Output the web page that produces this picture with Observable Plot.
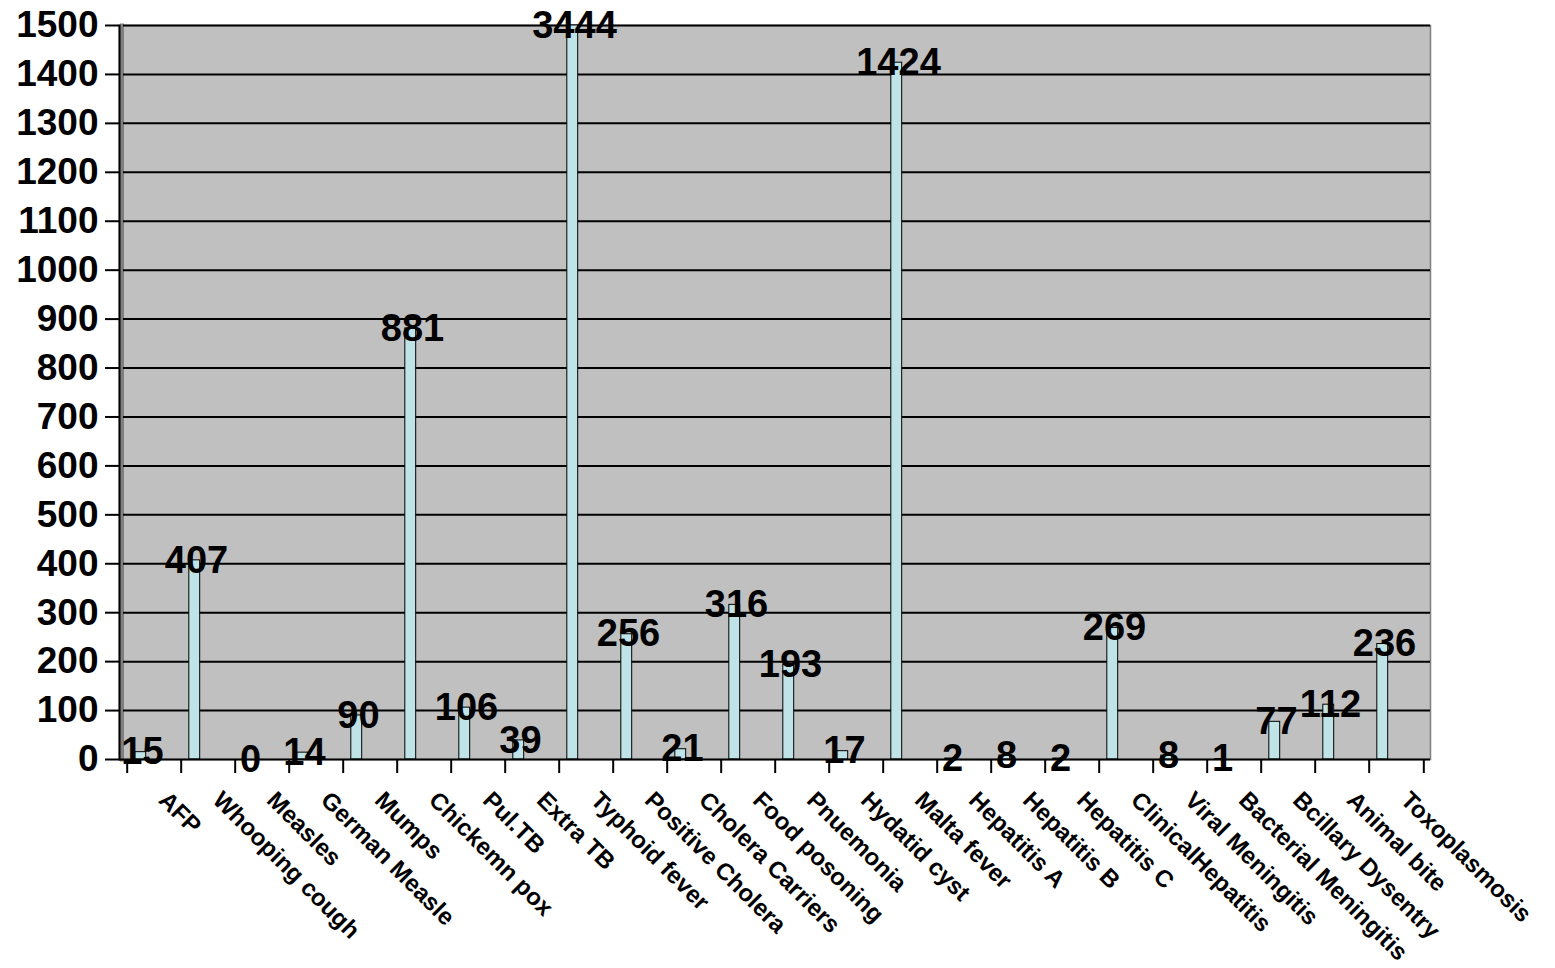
<!DOCTYPE html>
<html>
<head>
<meta charset="utf-8">
<script src="https://cdn.jsdelivr.net/npm/d3@7"></script>
<script src="https://cdn.jsdelivr.net/npm/@observablehq/plot@0.6"></script>
<style>
  html, body { margin: 0; padding: 0; background: #ffffff; }
  #chart svg { display: block; }
</style>
</head>
<body>
<div id="chart"></div>
<script>
const categories = ["AFP", "Whooping cough", "Measles", "German Measle", "Mumps", "Chickemn pox", "Pul.TB", "Extra TB", "Typhoid fever", "Positive Cholera", "Cholera Carriers", "Food posoning", "Pnuemonia", "Hydatid cyst", "Malta fever", "Hepatitis A", "Hepatitis B", "Hepatitis C", "ClinicalHepatitis", "Viral Meningitis", "Bacterial Meningitis", "Bcillary Dysentry", "Animal bite", "Toxoplasmosis"];
const values = [15, 407, 0, 14, 90, 881, 106, 39, 3444, 256, 21, 316, 193, 17, 1424, 2, 8, 2, 269, 8, 1, 77, 112, 236];
const yTicks = [0, 100, 200, 300, 400, 500, 600, 700, 800, 900, 1000, 1100, 1200, 1300, 1400, 1500];
const yMax = 1500;

const data = categories.map((c, i) => ({cat: c, value: values[i]}));

const W = 1555, H = 968;
const mL = 119, mR = 125, mT = 25, mB = 209;
const bw = (W - mL - mR) / categories.length;
const font = "'Liberation Sans', Arial, Helvetica, sans-serif";

const chart = Plot.plot({
  width: W,
  height: H,
  marginLeft: mL,
  marginRight: mR,
  marginTop: mT,
  marginBottom: mB,
  style: {fontFamily: font, background: "#ffffff", color: "#000000"},
  x: {type: "band", domain: categories, padding: 0, axis: null, label: null},
  y: {domain: [0, yMax], clamp: true, axis: null, label: null},
  marks: [
    Plot.frame({fill: "#c0c0c0", stroke: "#7f7f7f", strokeWidth: 1.5}),
    Plot.frame({anchor: "left", stroke: "#7f7f7f", strokeWidth: 4, dx: 2.5}),
    Plot.gridY(yTicks.slice(1), {stroke: "#000000", strokeOpacity: 1, strokeWidth: 2, insetLeft: 4}),
    // bar front faces
    Plot.barY(data, {x: "cat", y: "value", fill: "#bfe3e6", stroke: "#000000", strokeWidth: 1,
      insetLeft: bw / 2 - 19.5, insetRight: bw / 2 + 8}),
    // bar side faces (3D depth)
    Plot.barY(data, {x: "cat", y: "value", fill: "#5e7f82", stroke: "#000000", strokeWidth: 1,
      insetLeft: bw / 2 + 8, insetRight: bw / 2 + 3.5}),
    // axes lines
    Plot.ruleY([0], {stroke: "#000000", strokeWidth: 2}),
    Plot.frame({anchor: "left", stroke: "#000000", strokeWidth: 2}),
    Plot.axisY({ticks: yTicks, tickSize: 14, tickPadding: 7, tickFormat: d => String(d), label: null,
      fontSize: 37, fontWeight: "bold", stroke: "#000000", strokeWidth: 2, fill: "#000000"}),
    Plot.axisX({tickSize: 14, tickFormat: () => "", label: null, dx: -bw / 2, stroke: "#000000", strokeWidth: 2}),
    Plot.axisX({ticks: [categories[categories.length - 1]], tickSize: 14, tickFormat: () => "", label: null, dx: bw / 2, stroke: "#000000", strokeWidth: 2}),
    // category labels
    Plot.text(categories, {x: d => d, frameAnchor: "bottom", text: d => d, rotate: 45,
      textAnchor: "start", lineAnchor: "bottom", dx: 3, dy: 42,
      fontSize: 24, fontWeight: "bold", fill: "#000000"}),
    // value labels
    Plot.text(data, {x: "cat", y: d => Math.min(d.value, yMax), text: d => String(d.value),
      dx: -12, fontSize: 38, fontWeight: "bold", fill: "#000000"})
  ]
});

document.getElementById("chart").appendChild(chart);
</script>
</body>
</html>
